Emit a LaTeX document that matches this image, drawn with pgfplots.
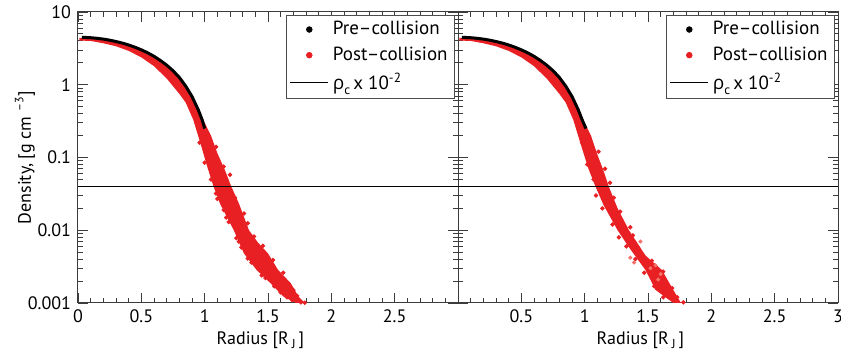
\documentclass[border=0pt]{standalone}
\usepackage{pgfplots}
\pgfplotsset{compat=1.18}
\usepackage{fontspec}
\setmainfont{PT Sans}
\newfontfamily\grk{Open Sans}
\definecolor{pr}{RGB}{232,32,36}
\definecolor{prl}{RGB}{242,115,105}
\definecolor{axc}{RGB}{60,60,60}

\pgfplotsset{
  every axis/.append style={
    scale only axis, width=190pt, height=145.5pt,
    xmin=0, xmax=3, ymin=0.001, ymax=10,
    xtick={0,0.5,1,1.5,2,2.5,3}, minor x tick num=4,
    ytick={0.001,0.01,0.1,1,10},
    minor ytick={0.002,0.003,0.004,0.005,0.006,0.007,0.008,0.009,
                 0.02,0.03,0.04,0.05,0.06,0.07,0.08,0.09,
                 0.2,0.3,0.4,0.5,0.6,0.7,0.8,0.9,
                 2,3,4,5,6,7,8,9},
    tick align=inside, xtick pos=both, ytick pos=both,
    major tick length=5pt, minor tick length=2.5pt,
    axis line style={axc, line width=0.5pt},
    every tick/.style={axc, line width=0.45pt},
    tick label style={font=\fontsize{9}{10}\selectfont},
    /pgf/number format/assume math mode=true,
    xlabel style={font=\fontsize{9}{10}\selectfont, at={(axis description cs:0.48,-0.127)}, anchor=center},
    ylabel style={font=\fontsize{9}{10}\selectfont, at={(axis description cs:-0.1395,0.5)}, anchor=center},
    legend style={at={(rel axis cs:0.992,0.99)}, anchor=north east, draw=black!70,
      line width=0.4pt, font=\fontsize{9.5}{11}\selectfont, inner xsep=1.5pt, inner ysep=1pt,
      row sep=0.6pt},
    legend cell align=left,
  },
}

\begin{document}
\begin{tikzpicture}
\useasboundingbox (-39pt,-26.5pt) rectangle (381.5pt,151.5pt);

% ---------------- left panel ----------------
\begin{semilogyaxis}[at={(0,0)}, anchor=south west,
  xticklabels={0,0.5,1,1.5,2,2.5,{}},
  yticklabels={0.001,0.01,0.1,1,10},
  xlabel={Radius [R\,\raisebox{-0.45ex}{\fontsize{6.5}{7}\selectfont J}\,]},
  ylabel={Density, [g cm \textsuperscript{–3}]}]
\addlegendimage{legend image code/.code={\path (0pt,0pt) (19pt,0pt); \fill[black] (9.5pt,0pt) circle (1.4pt);}}
\addlegendentry{Pre–collision}
\addlegendimage{legend image code/.code={\path (0pt,0pt) (19pt,0pt); \fill[pr] (9.5pt,0pt) circle (1.4pt);}}
\addlegendentry{Post–collision}
\addlegendimage{legend image code/.code={\draw[black, line width=0.6pt] (0pt,0pt) -- (19pt,0pt);}}
\addlegendentry{{\grk ρ}\raisebox{-0.5ex}{\fontsize{6.5}{7}\selectfont c}\,x 10\textsuperscript{-2}}

\addplot[fill=pr, draw=none, forget plot] coordinates {
(0.01,4.40)(0.1,4.36)(0.2,4.17)(0.3,3.87)(0.4,3.46)(0.5,2.97)(0.6,2.42)(0.7,1.84)
(0.8,1.25)(0.85,0.96)(0.9,0.70)(0.95,0.47)(1.0,0.30)(1.05,0.2)(1.10,0.115)(1.16,0.067)
(1.21,0.04)(1.27,0.0234)(1.35,0.01)(1.42,0.0068)(1.50,0.0048)(1.58,0.00284)(1.68,0.00187)
(1.74,0.00123)(1.79,0.001)
(1.72,0.001)(1.62,0.00123)(1.52,0.00187)(1.41,0.00284)(1.31,0.0048)(1.23,0.01)(1.12,0.0234)
(1.07,0.04)(1.02,0.075)(0.97,0.15)(0.91,0.33)(0.85,0.57)(0.8,0.75)(0.7,1.22)(0.6,1.80)
(0.5,2.38)(0.4,2.92)(0.3,3.38)(0.2,3.72)(0.1,4.00)(0.01,4.05)};

\addplot[only marks, mark=*, mark size=0.9pt, mark options={fill=pr, draw=pr}, forget plot] coordinates {
(0.96,0.16)(1.09,0.14)(1.0,0.085)(1.15,0.075)(1.05,0.05)(1.20,0.058)
(1.09,0.032)(1.24,0.028)(1.10,0.027)(1.15,0.019)(1.31,0.017)(1.17,0.015)
(1.19,0.013)(1.34,0.0125)(1.25,0.0078)(1.39,0.0082)(1.27,0.007)(1.29,0.0058)
(1.46,0.0061)(1.34,0.0041)(1.54,0.0039)(1.37,0.0036)(1.45,0.0024)(1.62,0.0026)
(1.48,0.0022)(1.55,0.0017)(1.70,0.0015)(1.60,0.0014)(1.65,0.0012)(1.73,0.00125)
(1.69,0.0011)(1.76,0.00102)(1.79,0.00101)};

\addplot[black, line width=1.5pt, forget plot] coordinates {
(0.03,4.50)(0.05,4.48)(0.10,4.43)(0.15,4.35)(0.20,4.24)(0.25,4.10)(0.30,3.93)(0.35,3.74)
(0.40,3.52)(0.45,3.28)(0.50,3.02)(0.55,2.75)(0.60,2.46)(0.65,2.16)(0.70,1.86)(0.75,1.56)
(0.80,1.26)(0.85,0.96)(0.90,0.69)(0.95,0.45)(0.98,0.33)(1.00,0.25)};

\addplot[black, line width=0.6pt, forget plot] coordinates {(0,0.04)(3,0.04)};
\end{semilogyaxis}

% ---------------- right panel ----------------
\begin{semilogyaxis}[at={(190pt,0)}, anchor=south west,
  xticklabels={{},0.5,1,1.5,2,2.5,3},
  yticklabels={},
  xlabel={Radius [R\,\raisebox{-0.45ex}{\fontsize{6.5}{7}\selectfont J}\,]}]
\addlegendimage{legend image code/.code={\path (0pt,0pt) (19pt,0pt); \fill[black] (9.5pt,0pt) circle (1.4pt);}}
\addlegendentry{Pre–collision}
\addlegendimage{legend image code/.code={\path (0pt,0pt) (19pt,0pt); \fill[pr] (9.5pt,0pt) circle (1.4pt);}}
\addlegendentry{Post–collision}
\addlegendimage{legend image code/.code={\draw[black, line width=0.6pt] (0pt,0pt) -- (19pt,0pt);}}
\addlegendentry{{\grk ρ}\raisebox{-0.5ex}{\fontsize{6.5}{7}\selectfont c}\,x 10\textsuperscript{-2}}

\addplot[fill=pr, draw=none, forget plot] coordinates {
(0.01,4.40)(0.1,4.36)(0.2,4.17)(0.3,3.87)(0.4,3.46)(0.5,2.97)(0.6,2.42)(0.7,1.84)
(0.8,1.25)(0.85,0.96)(0.9,0.70)(0.95,0.47)(1.0,0.30)(1.05,0.2)(1.10,0.11)(1.15,0.065)
(1.19,0.04)(1.26,0.02)(1.35,0.01)(1.48,0.0045)(1.61,0.00284)(1.70,0.00151)(1.76,0.001)
(1.70,0.001)(1.56,0.00151)(1.48,0.00284)(1.36,0.0055)(1.26,0.01)(1.15,0.022)(1.085,0.04)
(1.03,0.07)(0.97,0.15)(0.91,0.33)(0.85,0.57)(0.8,0.75)(0.7,1.22)(0.6,1.80)(0.5,2.38)
(0.4,2.92)(0.3,3.38)(0.2,3.72)(0.1,4.00)(0.01,4.05)};

\addplot[only marks, mark=*, mark size=0.9pt, mark options={fill=pr, draw=pr}, forget plot] coordinates {
(0.98,0.16)(1.11,0.12)(1.02,0.08)(1.16,0.07)(1.07,0.05)(1.20,0.045)(1.09,0.03)
(1.23,0.028)(1.14,0.02)(1.28,0.018)(1.22,0.012)(1.36,0.011)(1.27,0.008)(1.38,0.0085)
(1.33,0.006)(1.42,0.0058)(1.40,0.004)(1.53,0.0038)(1.47,0.0026)(1.62,0.0027)
(1.55,0.0017)(1.69,0.0016)(1.62,0.0012)(1.73,0.0012)(1.78,0.00102)};
\addplot[only marks, mark=*, mark size=0.8pt, mark options={fill=prl, draw=prl}, forget plot] coordinates {
(1.44,0.007)(1.36,0.0042)(1.39,0.0036)(1.56,0.0033)(1.60,0.0025)(1.52,0.003)(1.58,0.0021)};

\addplot[black, line width=1.5pt, forget plot] coordinates {
(0.03,4.50)(0.05,4.48)(0.10,4.43)(0.15,4.35)(0.20,4.24)(0.25,4.10)(0.30,3.93)(0.35,3.74)
(0.40,3.52)(0.45,3.28)(0.50,3.02)(0.55,2.75)(0.60,2.46)(0.65,2.16)(0.70,1.86)(0.75,1.56)
(0.80,1.26)(0.85,0.96)(0.90,0.69)(0.95,0.45)(0.98,0.33)(1.01,0.25)};

\addplot[black, line width=0.6pt, forget plot] coordinates {(0,0.04)(3,0.04)};
\end{semilogyaxis}
\end{tikzpicture}
\end{document}
